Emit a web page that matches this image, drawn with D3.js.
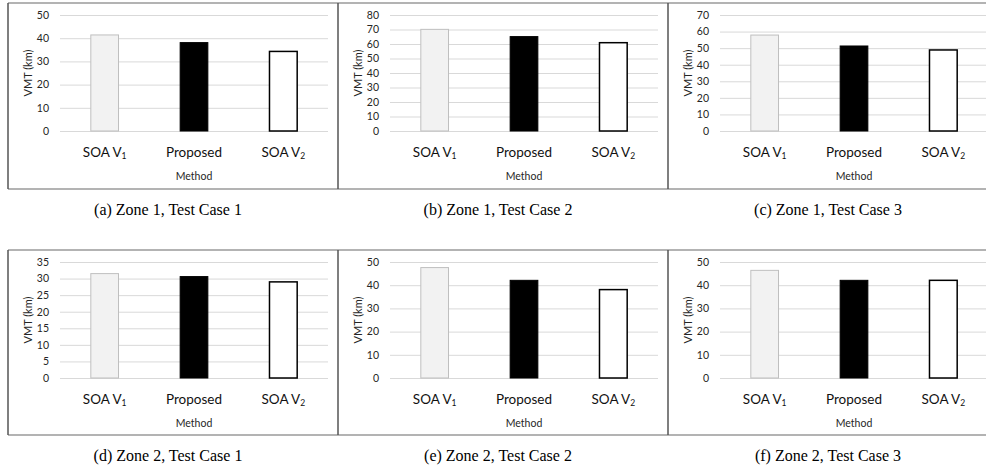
<!DOCTYPE html>
<html>
<head>
<meta charset="utf-8">
<script src="https://cdn.jsdelivr.net/npm/d3@7"></script>
<style>
  html, body { margin: 0; padding: 0; background: #fff; }
  svg { display: block; }
</style>
</head>
<body>
<svg id="chart" width="986" height="470"></svg>
<script>
// ---- data ----
const categories = ["SOA V1", "Proposed", "SOA V2"];
const catBase = ["SOA V", "Proposed", "SOA V"];
const catSub = ["1", "", "2"];
const zone1Case1 = [41.4, 38.1, 34.3];
const zone1Case2 = [70.1, 65.1, 60.9];
const zone1Case3 = [57.9, 51.3, 48.9];
const zone2Case1 = [31.5, 30.6, 29.0];
const zone2Case2 = [47.6, 42.1, 38.1];
const zone2Case3 = [46.4, 42.1, 42.1];
const seriesList = [zone1Case1, zone1Case2, zone1Case3, zone2Case1, zone2Case2, zone2Case3];
const yMaxList = [50, 80, 70, 35, 50, 50];
const yStepList = [10, 10, 10, 5, 10, 10];
const captions = [
  "(a) Zone 1, Test Case 1", "(b) Zone 1, Test Case 2", "(c) Zone 1, Test Case 3",
  "(d) Zone 2, Test Case 1", "(e) Zone 2, Test Case 2", "(f) Zone 2, Test Case 3"
];
const yTitle = "VMT (km)";
const xTitle = "Method";

// ---- layout ----
const svg = d3.select("#chart");
const sans = "Lato, 'Open Sans', sans-serif";
const rowTop = [3, 250];
const rowBottom = [189, 435];
const barFill = ["#f2f2f2", "#000000", "#ffffff"];
const barStroke = ["#bfbfbf", "#000000", "#000000"];
const barStrokeW = [1, 1, 1.5];

// frames
for (let r = 0; r < 2; r++) {
  [rowTop[r], rowBottom[r]].forEach(y => {
    svg.append("line").attr("x1", 8).attr("x2", 986).attr("y1", y).attr("y2", y)
      .attr("stroke", "#9a9a9a").attr("stroke-width", 1.5);
  });
  [8, 338, 668].forEach(x => {
    svg.append("line").attr("x1", x).attr("x2", x).attr("y1", rowTop[r]).attr("y2", rowBottom[r])
      .attr("stroke", "#555").attr("stroke-width", 1.5);
  });
}

seriesList.forEach((vals, i) => {
  const col = i % 3, row = Math.floor(i / 3);
  const fx = 8 + 330 * col;
  const ft = rowTop[row], fb = rowBottom[row];
  const left = fx + 52, width = 268;
  const yTopPx = ft + 12, yZeroPx = ft + 128;

  const g = svg.append("g");
  const x = d3.scaleBand().domain(categories).range([left, left + width]).padding(0);
  const y = d3.scaleLinear().domain([0, yMaxList[i]]).range([yZeroPx, yTopPx]);
  const ticks = d3.range(0, yMaxList[i] + 0.001, yStepList[i]);

  // grid + tick labels
  const ya = g.append("g").attr("transform", `translate(${left},0)`)
    .call(d3.axisLeft(y).tickValues(ticks).tickSize(-width).tickPadding(11).tickFormat(d3.format("d")));
  ya.select(".domain").remove();
  ya.selectAll(".tick line").attr("stroke", "#d9d9d9").attr("stroke-width", 1);
  ya.selectAll(".tick text").attr("font-family", sans).attr("font-size", 10.5).attr("fill", "#262626");

  // bars
  const bw = x.bandwidth() * 0.31;
  g.selectAll("rect.bar").data(vals).enter().append("rect")
    .attr("class", "bar")
    .attr("x", (d, k) => x(categories[k]) + (x.bandwidth() - bw) / 2)
    .attr("y", d => y(d))
    .attr("width", bw)
    .attr("height", d => y(0) - y(d))
    .attr("fill", (d, k) => barFill[k])
    .attr("stroke", (d, k) => barStroke[k])
    .attr("stroke-width", (d, k) => barStrokeW[k]);

  // category labels
  categories.forEach((c, k) => {
    const t = g.append("text")
      .attr("x", x(c) + x.bandwidth() / 2)
      .attr("y", yZeroPx + 26)
      .attr("text-anchor", "middle")
      .attr("font-family", sans).attr("font-size", 13.5).attr("fill", "#111");
    t.append("tspan").text(catBase[k]);
    if (catSub[k]) t.append("tspan").attr("font-size", 8.5).attr("dy", 2).text(catSub[k]);
  });

  // axis titles
  g.append("text")
    .attr("x", left + width / 2).attr("y", yZeroPx + 49)
    .attr("text-anchor", "middle")
    .attr("font-family", sans).attr("font-size", 10.5).attr("fill", "#262626")
    .text(xTitle);
  g.append("text")
    .attr("transform", `translate(${fx + 24},${(yTopPx + yZeroPx) / 2}) rotate(-90)`)
    .attr("text-anchor", "middle")
    .attr("font-family", sans).attr("font-size", 11).attr("fill", "#262626")
    .text(yTitle);

  // caption
  svg.append("text")
    .attr("x", fx + 160).attr("y", fb + 26)
    .attr("text-anchor", "middle")
    .attr("font-family", "'Liberation Serif', 'Times New Roman', serif")
    .attr("font-size", 16).attr("fill", "#000")
    .text(captions[i]);
});
</script>
</body>
</html>
